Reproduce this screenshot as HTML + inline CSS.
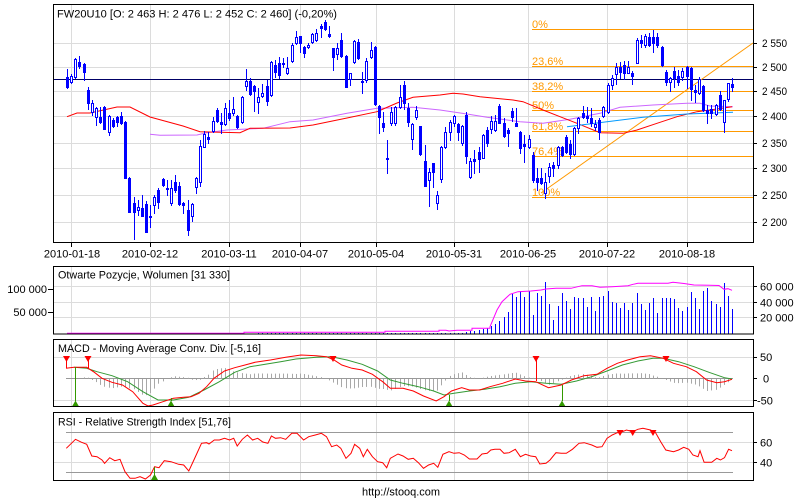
<!DOCTYPE html>
<html><head><meta charset="utf-8">
<style>
html,body{margin:0;padding:0;background:#fff;}
svg{display:block;font-family:"Liberation Sans",Arial,sans-serif;}
</style></head><body>
<svg id="s" width="800" height="500" viewBox="0 0 800 500" xmlns="http://www.w3.org/2000/svg" xml:space="preserve">
<rect width="800" height="500" fill="#fff"/>
<!-- grid -->
<g stroke="#dcdcdc" stroke-width="1" shape-rendering="crispEdges">
  <!-- main verticals -->
  <path d="M71.5 5V242 M150.5 5V242 M229.5 5V242 M300.5 5V242 M376.5 5V242 M454.5 5V242 M528.5 5V242 M607.5 5V242 M687.5 5V242"/>
  <path d="M54 43.5H753 M54 67.5H753 M54 91.5H753 M54 116.5H753 M54 143.5H753 M54 168.5H753 M54 195.5H753 M54 222.5H753"/>
  <!-- volume -->
  <path d="M71.5 267V334 M150.5 267V334 M229.5 267V334 M300.5 267V334 M376.5 267V334 M454.5 267V334 M528.5 267V334 M607.5 267V334 M687.5 267V334"/>
  <path d="M54 286.5H753 M54 302.5H753 M54 317.5H753"/>
  <!-- macd -->
  <path d="M71.5 340V406 M150.5 340V406 M229.5 340V406 M300.5 340V406 M376.5 340V406 M454.5 340V406 M528.5 340V406 M607.5 340V406 M687.5 340V406"/>
  <path d="M54 357.5H753 M54 400.5H753"/>
  <!-- rsi -->
  <path d="M71.5 413V480 M150.5 413V480 M229.5 413V480 M300.5 413V480 M376.5 413V480 M454.5 413V480 M528.5 413V480 M607.5 413V480 M687.5 413V480"/>
  <path d="M54 442.5H753 M54 462.5H753"/>
</g>
<!-- reference lines -->
<g stroke="#999" stroke-width="1" shape-rendering="crispEdges">
  <path d="M66 378.5H733"/>
  <path d="M66 432.5H733 M66 472.5H733"/>
</g>
<!-- fib -->
<g stroke="#ff9900" stroke-width="1" shape-rendering="crispEdges">
  <path d="M532 29.5H753 M532 66.5H753 M532 91.5H753 M532 110.5H753 M532 131.5H753 M532 156.5H753 M532 197.5H753"/>
</g>
<g fill="#ff9900" font-size="11">
  <text x="532" y="28">0%</text>
  <text x="532" y="65">23,6%</text>
  <text x="532" y="90">38,2%</text>
  <text x="532" y="109">50%</text>
  <text x="532" y="130">61,8%</text>
  <text x="532" y="155">76,4%</text>
  <text x="532" y="196">100%</text>
</g>
<path d="M53 79.5H753" stroke="#000066" stroke-width="1" shape-rendering="crispEdges"/>
<path d="M541 193L753 43" stroke="#ff9900" stroke-width="1" fill="none"/>
<g id="dyn"></g>
<!-- borders -->
<g fill="none" stroke="#000" stroke-width="1" shape-rendering="crispEdges">
  <rect x="53.5" y="4.5" width="700" height="238"/>
  <rect x="53.5" y="266.5" width="700" height="67.5"/>
  <rect x="53.5" y="339.5" width="700" height="67"/>
  <rect x="53.5" y="412.5" width="700" height="68"/>
  <!-- ticks -->
  <path d="M753 43.5H757 M753 67.5H757 M753 91.5H757 M753 116.5H757 M753 143.5H757 M753 168.5H757 M753 195.5H757 M753 222.5H757"/>
  <path d="M71.5 243V247 M150.5 243V247 M229.5 243V247 M300.5 243V247 M376.5 243V247 M454.5 243V247 M528.5 243V247 M607.5 243V247 M687.5 243V247"/>
  <path d="M48 289.5H53 M48 312.5H53 M753 286.5H757 M753 302.5H757 M753 317.5H757"/>
  <path d="M753 357.5H757 M753 378.5H757 M753 400.5H757"/>
  <path d="M753 442.5H757 M753 462.5H757"/>
</g>
<!-- texts -->
<g fill="#000" font-size="11">
  <text x="57" y="17.5" textLength="280" lengthAdjust="spacingAndGlyphs">FW20U10 [O: 2 463  H: 2 476  L: 2 452  C: 2 460] (-0,20%)</text>
  <text x="762" y="47" textLength="25" lengthAdjust="spacingAndGlyphs">2 550</text>
  <text x="762" y="71" textLength="25" lengthAdjust="spacingAndGlyphs">2 500</text>
  <text x="762" y="95" textLength="25" lengthAdjust="spacingAndGlyphs">2 450</text>
  <text x="762" y="120" textLength="25" lengthAdjust="spacingAndGlyphs">2 400</text>
  <text x="762" y="147" textLength="25" lengthAdjust="spacingAndGlyphs">2 350</text>
  <text x="762" y="172" textLength="25" lengthAdjust="spacingAndGlyphs">2 300</text>
  <text x="762" y="199" textLength="25" lengthAdjust="spacingAndGlyphs">2 250</text>
  <text x="762" y="226" textLength="25" lengthAdjust="spacingAndGlyphs">2 200</text>
  <g text-anchor="middle">
    <text x="72" y="257.5">2010-01-18</text>
    <text x="150" y="257.5">2010-02-12</text>
    <text x="229" y="257.5">2010-03-11</text>
    <text x="300" y="257.5">2010-04-07</text>
    <text x="376" y="257.5">2010-05-04</text>
    <text x="454" y="257.5">2010-05-31</text>
    <text x="528" y="257.5">2010-06-25</text>
    <text x="607" y="257.5">2010-07-22</text>
    <text x="687" y="257.5">2010-08-18</text>
  </g>
  <text x="58" y="278.5" textLength="172" lengthAdjust="spacingAndGlyphs">Otwarte Pozycje, Wolumen [31 330]</text>
  <text x="47" y="293" text-anchor="end">100 000</text>
  <text x="47" y="316" text-anchor="end">50 000</text>
  <text x="760" y="290.5">60 000</text>
  <text x="760" y="306.5">40 000</text>
  <text x="760" y="321.5">20 000</text>
  <text x="58" y="352" textLength="203" lengthAdjust="spacingAndGlyphs">MACD - Moving Average Conv. Div. [-5,16]</text>
  <text x="760" y="361">50</text>
  <text x="763" y="382.5">0</text>
  <text x="757" y="404.5">-50</text>
  <text x="58" y="425.5" textLength="173" lengthAdjust="spacingAndGlyphs">RSI - Relative Strength Index [51,76]</text>
  <text x="760" y="446.5">60</text>
  <text x="760" y="466.5">40</text>
  <text x="401" y="495.5" text-anchor="middle" textLength="78" lengthAdjust="spacingAndGlyphs">http://stooq.com</text>
</g>
</svg>
<script>
(function(){
var NS="http://www.w3.org/2000/svg";
var g=document.getElementById('dyn');
function el(tag,a){var e=document.createElementNS(NS,tag);for(var k in a)e.setAttribute(k,a[k]);g.appendChild(e);return e;}
function pl(pts,c,w){el('polyline',{points:pts.map(function(p){return p[0]+','+p[1];}).join(' '),fill:'none',stroke:c,'stroke-width':w||1});}
function X(i){return Math.round(67+4.158*i);}
function interp(p,x){if(x<=p[0][0])return p[0][1];for(var k=1;k<p.length;k++){if(x<=p[k][0]){var a=p[k-1],b=p[k];return a[1]+(b[1]-a[1])*(x-a[0])/(b[0]-a[0]);}}return p[p.length-1][1];}

// moving averages
var red=[[67,116.7],[77,113],[90,113],[117,107],[130,107],[150,117],[183,126],[200,131.7],[240,132.7],[250,128.3],[290,128],[313,125],[347,118],[377,111.7],[397,103],[413,97.3],[440,95],[453,93.3],[463,94],[480,96.7],[513,100],[523,101.7],[543,110],[560,116.7],[577,123.3],[600,132.7],[623,133.3],[637,130],[657,123.3],[677,116.7],[697,111.7],[710,110],[732,106.7]];
var pur=[[150,134.3],[160,135.3],[197,135],[207,132.7],[227,130],[263,128.3],[290,121.7],[313,120],[347,113.3],[377,108.3],[413,107.3],[440,110],[467,114],[487,117.3],[520,121.7],[543,123.3],[570,119.3],[600,113.3],[620,107.3],[653,105],[687,103.3],[700,103.3],[710,106],[733,106.7]];
var cy=[[567,126.7],[595,123.3],[643,117.3],[687,114],[733,112.3]];
pl(pur,'#cc66ff');pl(red,'#ff0000');pl(cy,'#0099ff');

// candles [top,bot,high,low,filled]
var C=[[77,87,69,88,1],[76,82,74,83,0],[59,77,58,78,0],[62,66,56,68,1],[64,72,63,80,1],[90,103,87,109,1],[103,112,100,115,0],[108,117,107,125,0],[117,122,107,123,1],[107,129,106,129,1],
[116,132,115,135,0],[120,126,118,127,1],[117,122,116,126,1],[116,123,112,124,1],[122,178,121,178,1],[178,212,177,212,1],[203,212,197,239,1],[207,210,200,215,0],[208,216,195,216,1],[204,232,201,232,1],
[216,217,205,227,1],[197,205,195,213,0],[190,202,188,208,1],[179,185,178,186,1],[188,189,180,195,1],[188,203,180,205,0],[182,190,175,192,1],[186,204,182,205,1],[203,205,202,213,1],[210,230,200,235,1],
[204,216,203,221,0],[178,187,177,193,0],[146,182,140,186,0],[134,147,131,147,0],[137,139,132,143,1],[121,131,117,132,0],[110,121,108,122,1],[122,124,113,133,1],[108,124,103,125,0],[113,118,100,120,1],
[109,113,97,115,0],[116,127,115,128,1],[97,122,96,123,0],[81,86,69,90,0],[81,94,78,95,1],[86,91,85,111,1],[97,102,88,113,0],[93,96,84,97,0],[86,101,80,105,1],[62,95,61,96,0],
[65,72,60,77,1],[63,75,57,78,1],[63,64,58,67,1],[68,73,57,74,0],[45,61,43,62,0],[37,43,31,44,0],[36,43,36,52,1],[47,53,46,57,1],[45,47,43,48,0],[34,42,33,43,0],
[33,40,29,41,0],[26,28,24,37,1],[22,29,20,30,1],[34,36,26,37,1],[48,57,48,70,1],[48,54,43,59,0],[40,56,33,57,1],[56,87,55,87,1],[73,79,73,85,0],[41,62,40,63,0],
[42,58,39,59,1],[81,82,72,93,1],[61,80,58,82,0],[50,57,42,58,0],[47,104,46,105,1],[106,117,105,133,1],[123,127,112,131,1],[158,159,140,173,1],[112,123,107,125,0],[107,123,106,125,0],
[97,107,85,108,0],[85,103,81,109,1],[108,122,103,126,1],[124,139,123,149,0],[110,117,106,119,0],[126,154,126,155,1],[161,186,145,186,1],[172,180,168,206,0],[163,172,163,187,1],[195,203,191,209,0],
[147,179,146,182,0],[132,147,127,148,0],[122,132,120,140,0],[116,123,115,126,0],[124,132,123,140,1],[126,143,125,145,0],[115,156,112,163,1],[161,177,158,178,0],[159,161,150,173,1],[152,159,147,172,1],
[135,158,134,158,0],[130,143,127,146,1],[121,129,116,133,0],[121,130,115,131,0],[106,123,104,123,1],[123,136,118,137,1],[130,133,128,146,1],[111,117,108,121,1],[123,126,108,126,1],[132,148,131,153,1],
[144,146,135,162,1],[139,147,135,148,0],[155,180,152,182,1],[178,182,168,190,1],[178,183,168,184,1],[182,193,173,198,0],[167,176,163,182,0],[165,168,162,176,1],[147,165,146,168,0],[147,155,146,156,1],
[137,152,135,153,1],[144,154,140,158,1],[128,154,127,155,0],[118,128,117,133,0],[113,117,106,118,1],[116,118,107,122,1],[118,123,108,126,1],[124,127,120,130,0],[120,132,118,139,1],[107,116,106,117,0],
[85,112,83,113,0],[78,85,75,89,0],[67,74,63,84,0],[67,72,62,78,1],[65,73,61,79,1],[67,73,61,73,0],[73,76,71,84,1],[40,63,38,63,0],[40,43,35,47,1],[36,45,34,47,0],
[37,45,33,46,1],[37,43,30,52,1],[37,45,33,47,1],[47,65,46,66,1],[72,82,70,85,1],[78,82,77,91,0],[71,78,67,87,1],[76,82,70,85,1],[71,77,68,80,0],[67,76,66,88,1],
[68,89,67,100,1],[90,92,85,102,1],[79,93,77,94,0],[86,110,85,111,1],[110,113,105,123,1],[109,113,105,118,1],[105,114,104,115,0],[95,109,91,110,1],[100,122,100,132,0],[83,99,83,101,0],
[84,87,78,91,1]];
var B='#0000ff';
for(var i=0;i<C.length;i++){
  var c=C[i],x=X(i);
  el('rect',{x:x,y:c[2],width:1,height:c[3]-c[2]+1,fill:B});
  el('rect',{x:x-1,y:c[0],width:3,height:Math.max(1,c[1]-c[0]+1),fill:B});
  if(!c[4]&&c[1]-c[0]>1){el('rect',{x:x,y:c[0]+1,width:1,height:c[1]-c[0]-1,fill:'#fff'});}
}

// volume
function vbar(i,top){var x=X(i);el('rect',{x:x,y:top,width:1,height:334-top,fill:B});}
for(var i=46;i<96;i++)vbar(i,333);
var ramp=[2,3,3,4,5,6,8,10,13];
for(var k=0;k<ramp.length;k++)vbar(96+k,334-ramp[k]);
var V=[316.7,311.7,294,296.7,291,296.7,291,315,293,295.7,282,304,320,305.7,293,301,309,297,297.7,297.7,306.7,296.7,311,296.7,295.7,291,301.7,303.3,307.7,303.3,310,303.3,293.3,304.3,310,303.3,298.3,313.3,297.7,298.3,298.3,299.3,307.7,311,306.7,291.7,297.7,309,291,287.7,301,304.3,307,283.3,296,308.7];
for(var k=0;k<V.length;k++)vbar(105+k,Math.round(V[k]));
var oi=[[67,333.3],[244,333.3],[244,332.3],[385,332.3],[385,331.3],[439,331.3],[439,330.3],[446,330.3],[449,331],[457,330.3],[472,330.3],[472,328.3],[490,328.3],[490,326.7],[497,310],[502,301.7],[510,294.3],[518,291.7],[531,291],[541,290],[546,289],[556,288.3],[571,288.3],[582,285.7],[592,285.7],[600,287.3],[612,286.7],[628,285.7],[633,284.3],[638,283.3],[668,283.3],[673,282.3],[684,283.5],[694,285],[709,285.3],[719,285.5],[724,289.3],[728,288.7],[732,290.3]];
pl(oi,'#ff00ff');

// MACD
var mr=[[66,368.3],[74,367.3],[86.7,367.3],[94.4,372.3],[102,378.3],[112,382.3],[122.4,385],[132.7,391.7],[142.9,403.3],[148,406],[153,405],[163,401.7],[173.5,398.3],[183.7,397.3],[191,396.7],[199,393.3],[206.6,386.7],[214,378.3],[224.5,371],[234.7,367.7],[245,365],[255,362.3],[270.4,360],[285.7,357.3],[301,355],[316.3,355.7],[326.5,356.7],[334,360],[341.8,365],[352,368.3],[362.2,370],[372.4,374.3],[382.7,381.7],[390.3,388.3],[403,388.3],[413.3,391],[423.5,396],[436.2,401],[444,396.7],[451.5,391],[461.7,387.7],[469.4,390],[479.6,390],[490,386.7],[502.6,383.3],[515.3,379],[525.5,381],[535.7,381.7],[548.5,387.7],[561.2,385],[571.4,380],[584,375.7],[597,374.3],[607,368.3],[617.3,363.3],[627.6,360],[640.3,356.7],[650.5,355.7],[663.3,358.3],[673.5,363.3],[686.2,366.7],[696.4,371.7],[706.6,380],[716.8,382.7],[724.5,381.7],[732,379.3]];
var mg=[[74,367.3],[86.7,368.3],[97,371.7],[112,375.7],[127.6,381.7],[142.9,391.7],[158,400],[173.5,400],[188.8,397.3],[204,390],[219.4,381.7],[234.7,372.3],[250,366.7],[265.3,364.3],[280.6,361.7],[296,359],[316.3,357.3],[331.6,356.7],[347,360],[362.2,364.3],[377.6,371],[390.3,380],[403,383.3],[418.4,386.7],[433.7,391],[444,395],[454,393.3],[469.4,391],[484.7,389.3],[500,386.7],[515.3,383.3],[530.6,381.7],[546,383.3],[561.2,384.3],[576.5,381],[591.8,376.7],[607,371],[622.4,365],[637.8,361],[653,358.3],[663.3,358.3],[678.6,361.7],[694,366.7],[709,372.3],[724.5,377.7],[732,379]];
for(var i=2;i<C.length;i++){
  var x=X(i);var h=1.4*(interp(mg,x)-interp(mr,x));
  if(Math.abs(h)<0.6)continue;
  if(h>0)el('rect',{x:x,y:378.5-h,width:1,height:h,fill:'#a8a8a8'});
  else el('rect',{x:x,y:379,width:1,height:-h,fill:'#a8a8a8'});
}
pl(mg,'#339933');pl(mr,'#ff0000');
function tri(x,y,up,col){var p=up?[[x,y],[x-3.5,y+6],[x+3.5,y+6]]:[[x-3.5,y],[x+3.5,y],[x,y+6]];el('polygon',{points:p.map(function(q){return q[0]+','+q[1];}).join(' '),fill:col});}
var RC='#ff0000',GC='#339900';
el('path',{d:'M66.5 360V368 M88.5 360V368 M536.5 360V381',stroke:RC,'stroke-width':1,fill:'none'});
el('path',{d:'M75.5 401V367 M171.5 401V398 M449.5 401V395 M562.5 401V385',stroke:GC,'stroke-width':1,fill:'none'});
[66.5,88,333,536,666].forEach(function(x){tri(x,356,false,RC);});
[75.5,171,449,562].forEach(function(x){tri(x,400.5,true,GC);});

// RSI
var rs=[[66.3,448.3],[75.5,439.3],[81.6,442.3],[86.7,444.3],[91.8,456],[97,456.7],[102,460],[104.6,463.3],[109.7,457.7],[114.8,460.7],[120,459.3],[125,471.7],[130,478.3],[135,478.3],[140,476.7],[145.4,479],[150.5,475],[154.6,466.7],[159,467.7],[164.3,460.7],[171,461.7],[178.6,464.3],[183.7,465],[188.8,471],[193.9,460],[201.5,443.3],[206.6,442.7],[209,444],[214.3,440],[219.4,440],[224.5,438.3],[229.6,440],[233.7,438.3],[237.2,446],[242.3,439.3],[247.4,435],[252.6,440],[257.7,438.3],[262.8,442],[267.9,443.3],[271.4,436],[275.5,438.3],[280.6,437.7],[285.7,439.3],[291.8,433.3],[297,433.3],[303.6,440],[308.7,436.7],[315.3,435],[321.4,433.3],[326.5,436.7],[331.6,446.7],[336.7,445],[340.8,448.3],[346,458.3],[351,453.3],[354.6,444.3],[359.7,448.3],[363.3,456.7],[367.3,449.3],[372.4,456.7],[377.6,461.7],[382.7,462.7],[386.7,467.7],[390.3,458.3],[398,454],[403,456],[408.2,459.3],[413.3,458.3],[418.4,462.7],[423.5,468.3],[428.6,465],[433.7,463.3],[437.8,467.3],[442.9,454.3],[449,451.7],[454,453.3],[459.2,452.7],[464.3,455],[469.4,459],[477,459],[482,454],[487.2,453.3],[490.8,450],[494.9,449.3],[500,449.3],[504,453.3],[509.2,452.7],[515.3,449.3],[520.4,456.7],[525.5,454.3],[530.6,456],[535.7,456.7],[539.8,464],[546,463.3],[550,460],[556,452.7],[561.2,453.3],[566.3,453.3],[572.4,449.3],[579,443.3],[584.2,442.7],[591.8,445],[597,447.3],[602,446.7],[607,438.3],[612.2,435],[617.3,432.7],[622.4,431.7],[626.5,430],[632.7,431.7],[637.8,429.3],[642.9,428.3],[650.5,430],[655.6,432.7],[660.7,441.7],[665.8,450],[673.5,451.7],[678.6,450],[683.7,447.3],[688.8,449.3],[692.9,455],[698,456.7],[700,450.7],[704.1,462.3],[711.7,462.3],[716.8,458.3],[720.4,460],[724.5,457.7],[728.6,449.3],[732,450.7]];
pl(rs,'#ff0000');
el('path',{d:'M154.5 480V467',stroke:GC,'stroke-width':1,fill:'none'});
tri(154.5,474,true,GC);
[620,632.7,653].forEach(function(x){tri(x,430,false,RC);});
})();
</script>
</body></html>
